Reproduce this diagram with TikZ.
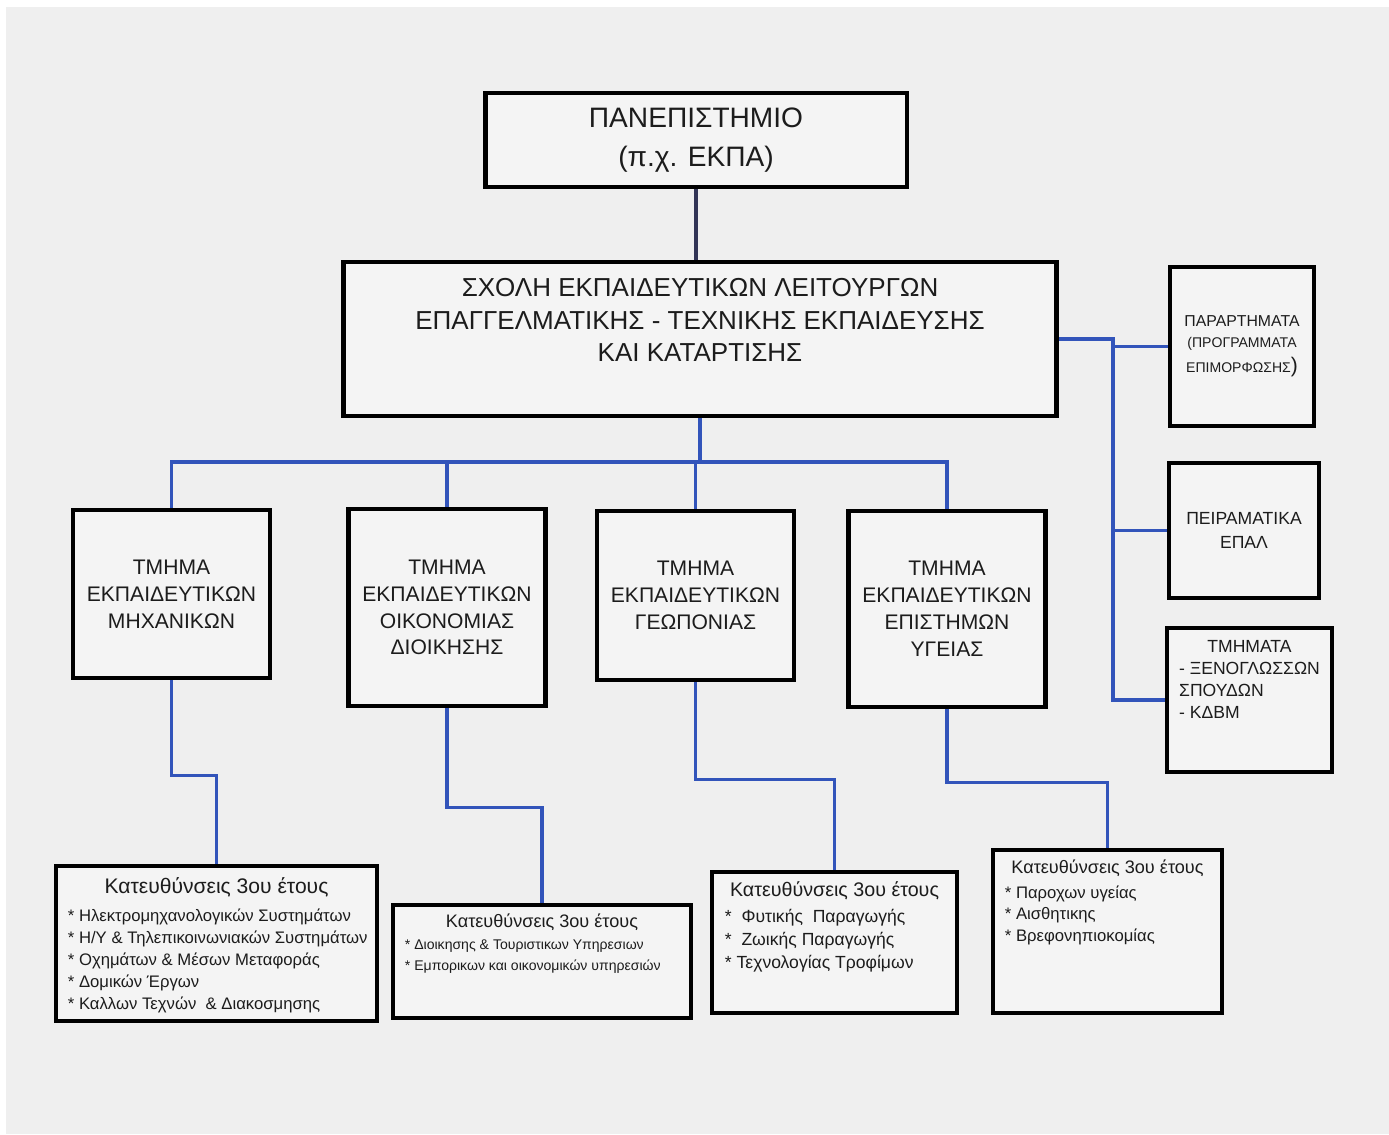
\documentclass[tikz,border=0pt]{standalone}
\usepackage{fontspec}
\setmainfont{Liberation Sans}
\usetikzlibrary{calc}
\definecolor{bgray}{RGB}{239,239,239}
\definecolor{boxfill}{RGB}{244,244,244}
\definecolor{linkblue}{RGB}{50,84,186}
\definecolor{linkdark}{RGB}{50,52,86}
\definecolor{inkgray}{RGB}{28,28,28}
\newcommand{\setfs}[2]{\fontsize{#1}{#2}\selectfont}
\tikzset{
	box/.style={draw=black, fill=boxfill, line width=2.8pt, inner sep=0pt, align=center, text=inkgray},
	dept/.style={box, minimum width=3.94cm, font=\setfs{12}{15.3}},
	boxtext/.style={inner sep=0pt, align=center, text=inkgray},
	dirtitle/.style={boxtext, anchor=base},
	dirlist/.style={inner sep=0pt, align=left, anchor=base west, text=inkgray},
	link/.style={draw=linkblue, line width=2pt},
	toplink/.style={draw=linkdark, line width=2pt}
}

\begin{document}
\begin{tikzpicture}[x=0.02cm, y=-0.02cm]
		%%%%% START %%%%%
		\fill[white] (0, 0) rectangle (1389, 1134);
		\fill[bgray] (6, 7) rectangle (1389, 1134);
		\useasboundingbox (0, 0) rectangle (1389, 1134);
		
		% top boxes
		\node[box, minimum width=8.44cm, minimum height=1.88cm, font=\setfs{16}{22}] (uni) at (696, 140) {ΠΑΝΕΠΙΣΤΗΜΙΟ\\(π.χ. ΕΚΠΑ)};
		\node[box, minimum width=14.28cm, minimum height=3.08cm] (school) at (700, 339) {};
		\node[boxtext, font=\setfs{14.8}{18.7}] (school-t) at ($(school.center)+(0, -19)$) {ΣΧΟΛΗ ΕΚΠΑΙΔΕΥΤΙΚΩΝ ΛΕΙΤΟΥΡΓΩΝ\\ΕΠΑΓΓΕΛΜΑΤΙΚΗΣ - ΤΕΧΝΙΚΗΣ ΕΚΠΑΙΔΕΥΣΗΣ\\ΚΑΙ ΚΑΤΑΡΤΙΣΗΣ};
		
		% right column
		\node[box, minimum width=2.88cm, minimum height=3.18cm, font=\setfs{9}{11.5}] (parart) at (1242, 346.5) {ΠΑΡΑΡΤΗΜΑΤΑ\\{\setfs{8}{11}(ΠΡΟΓΡΑΜΜΑΤΑ}\\[3pt]{\setfs{8}{11}ΕΠΙΜΟΡΦΩΣΗΣ}{\setfs{12}{12})}};
		\node[box, minimum width=3.0cm, minimum height=2.7cm, font=\setfs{10}{13.6}] (peir) at (1244, 530.5) {ΠΕΙΡΑΜΑΤΙΚΑ\\ΕΠΑΛ};
		\node[box, minimum width=3.3cm, minimum height=2.88cm] (tmimata) at (1249.5, 700) {};
		\node[boxtext, font=\setfs{10}{12.5}] (tmimata-t) at ($(tmimata.center)+(0, -19)$) {\begin{tabular}{@{}l@{}}\multicolumn{1}{@{}c@{}}{ΤΜΗΜΑΤΑ}\\- ΞΕΝΟΓΛΩΣΣΩΝ\\ΣΠΟΥΔΩΝ\\- ΚΔΒΜ\end{tabular}};
		
		% departments
		\node[dept, minimum height=3.36cm] (d1) at (171.5, 594) {ΤΜΗΜΑ\\ΕΚΠΑΙΔΕΥΤΙΚΩΝ\\ΜΗΧΑΝΙΚΩΝ};
		\node[dept, minimum height=3.94cm] (d2) at (447, 607.5) {ΤΜΗΜΑ\\ΕΚΠΑΙΔΕΥΤΙΚΩΝ\\ΟΙΚΟΝΟΜΙΑΣ\\ΔΙΟΙΚΗΣΗΣ};
		\node[dept, minimum height=3.38cm] (d3) at (695.5, 595.5) {ΤΜΗΜΑ\\ΕΚΠΑΙΔΕΥΤΙΚΩΝ\\ΓΕΩΠΟΝΙΑΣ};
		\node[dept, minimum height=3.92cm] (d4) at (947, 609) {ΤΜΗΜΑ\\ΕΚΠΑΙΔΕΥΤΙΚΩΝ\\ΕΠΙΣΤΗΜΩΝ\\ΥΓΕΙΑΣ};
		
		% third year directions
		\node[box, minimum width=6.42cm, minimum height=3.1cm] (b1) at (216.5, 943.5) {};
		\node[dirtitle, font=\setfs{12}{14}] (b1-t) at ($(b1.north)+(0, 30)$) {Κατευθύνσεις 3ου έτους};
		\node[dirlist, font=\setfs{9.5}{12.5}] (b1-l) at ($(b1.north west)+(14, 146)$) {* Ηλεκτρομηχανολογικών Συστημάτων\\* Η/Υ \& Τηλεπικοινωνιακών Συστημάτων\\* Οχημάτων \& Μέσων Μεταφοράς\\* Δομικών Έργων\\* Καλλων Τεχνών\ \ \& Διακοσμησης};
		
		\node[box, minimum width=5.96cm, minimum height=2.26cm] (b2) at (542, 961.5) {};
		\node[dirtitle, font=\setfs{10.3}{12}] (b2-t) at ($(b2.north)+(0, 25)$) {Κατευθύνσεις 3ου έτους};
		\node[dirlist, font=\setfs{8}{11.9}] (b2-l) at ($(b2.north west)+(14, 68)$) {* Διοικησης \& Τουριστικων Υπηρεσιων\\* Εμπορικων και οικονομικών υπηρεσιών};
		
		\node[box, minimum width=4.9cm, minimum height=2.82cm] (b3) at (834.5, 942.5) {};
		\node[dirtitle, font=\setfs{11.2}{13}] (b3-t) at ($(b3.north)+(0, 27)$) {Κατευθύνσεις 3ου έτους};
		\node[dirlist, font=\setfs{10}{13}] (b3-l) at ($(b3.north west)+(15, 99)$) {*\ \ Φυτικής\ \ Παραγωγής\\*\ \ Ζωικής Παραγωγής\\* Τεχνολογίας Τροφίμων};
		
		\node[box, minimum width=4.58cm, minimum height=3.26cm] (b4) at (1107.5, 931.5) {};
		\node[dirtitle, font=\setfs{10.3}{12}] (b4-t) at ($(b4.north)+(0, 26)$) {Κατευθύνσεις 3ου έτους};
		\node[dirlist, font=\setfs{9.5}{12.4}] (b4-l) at ($(b4.north west)+(14, 94)$) {* Παροχων υγείας\\* Αισθητικης\\* Βρεφονηπιοκομίας};
		
		% connectors
		\draw[toplink] (uni.south) -- (uni.south |- school.north);
		
		\coordinate (bus) at (0, 462);
		\draw[link] (school.south) -- (school.south |- bus);
		\draw[link] (d1.north) -- (d1.north |- bus) -- (d4.north |- bus) -- (d4.north);
		\draw[link] (d2.north |- bus) -- (d2.north);
		\draw[link] (d3.north |- bus) -- (d3.north);
		
		\coordinate (rbus) at (1113, 339);
		\draw[link] (school.east) -- (rbus) |- (tmimata.west);
		\draw[link] (rbus) |- (parart.west);
		\draw[link] (rbus |- peir.west) -- (peir.west);
		
		\draw[link] (d1.south) -- ++(0, 95) -| (b1.north);
		\draw[link] (d2.south) -- ++(0, 99) -| (b2.north);
		\draw[link] (d3.south) -- ++(0, 97) -| (b3.north);
		\draw[link] (d4.south) -- ++(0, 73) -| (b4.north);
		%%%%% END %%%%%
\end{tikzpicture}
\end{document}
